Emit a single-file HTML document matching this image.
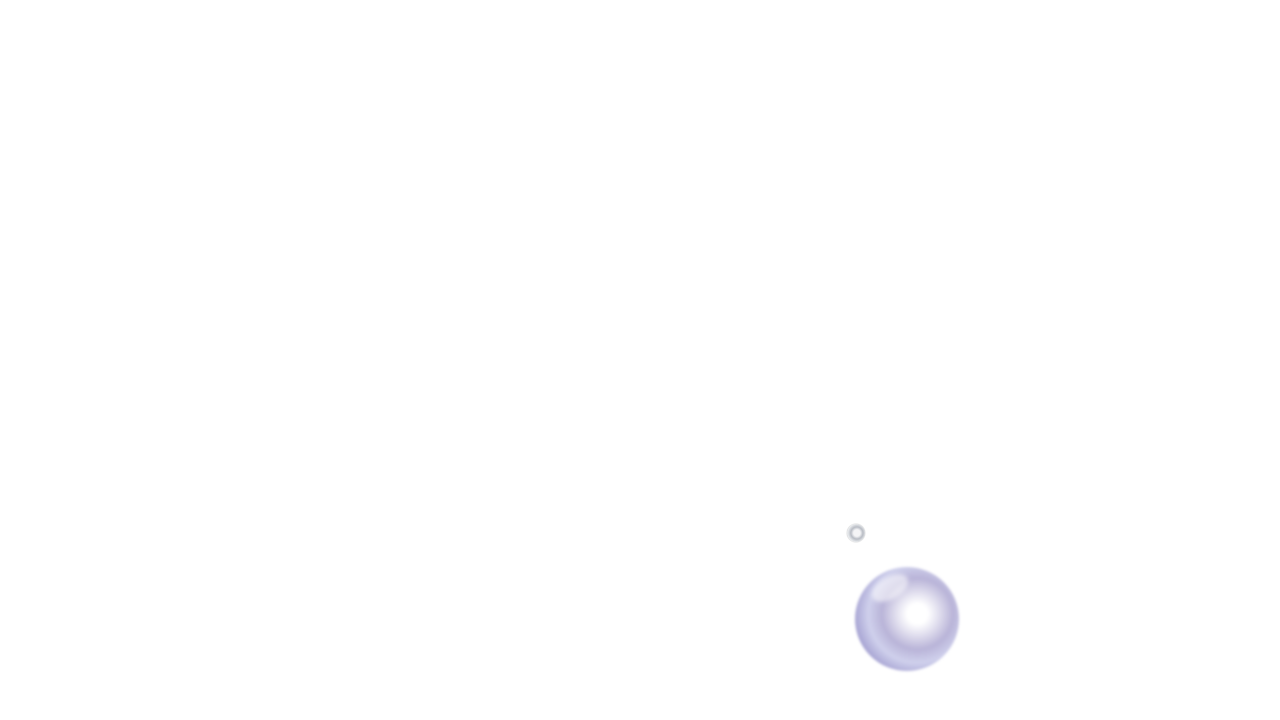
<!DOCTYPE html>
<html><head><meta charset="utf-8"><style>
html,body{margin:0;padding:0;width:1280px;height:720px;background:#fff;overflow:hidden;position:relative}
.s{position:absolute;left:847px;top:524px;width:18px;height:18px;border-radius:50%;
background:radial-gradient(circle at 55% 50%,#f4f4f6 0 25%,#b8bcc4 45%,#eef0f2 70%,#8a8e96 85%,#d8dadd 100%);box-shadow:0 0 1px #999}
.b{position:absolute;left:855px;top:567px;width:104px;height:104px;border-radius:50%;
background:radial-gradient(circle at 60% 45%,#ffffff 0 12%,#e4e2f0 24%,#b9b4d8 42%,#cfd0ec 58%,#a9a6d4 74%,#8f8bc4 86%,#d6d6ee 100%);
filter:blur(1.2px)}
.h{position:absolute;left:870px;top:577px;width:40px;height:22px;border-radius:50%;background:rgba(255,255,255,.55);transform:rotate(-30deg);filter:blur(2px)}
</style></head><body>
<div class="s"></div>
<div class="b"></div>
<div class="h"></div>
</body></html>
